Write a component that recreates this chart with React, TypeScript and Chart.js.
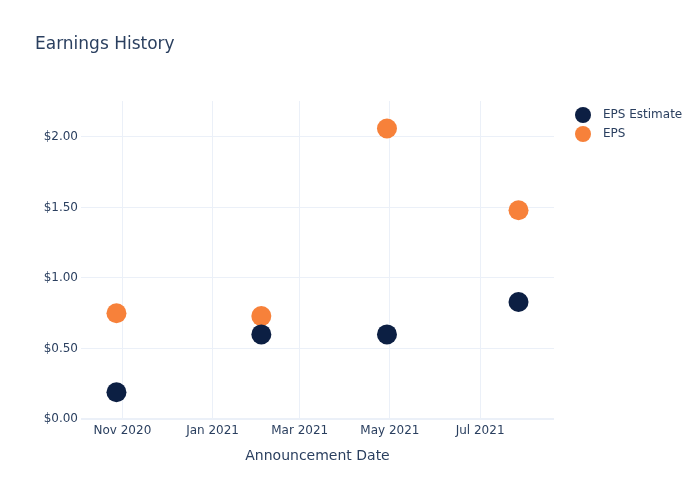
import React, { useEffect, useRef } from "react";
import { Chart, registerables } from "chart.js";

Chart.register(...registerables);

const chartTitle = "Earnings History";
const xAxisTitle = "Announcement Date";
const seriesNames = ["EPS Estimate", "EPS"];
const seriesColors = ["#0c1f43", "#f7813a"];
const announceDates = ["2020-10-28", "2021-02-03", "2021-04-29", "2021-07-27"];
const epsEstimate = [0.19, 0.6, 0.6, 0.83];
const epsActual = [0.75, 0.73, 2.06, 1.48];
const xTickDates = ["2020-11-01", "2021-01-01", "2021-03-01", "2021-05-01", "2021-07-01"];
const xTickLabels = ["Nov 2020", "Jan 2021", "Mar 2021", "May 2021", "Jul 2021"];
const xRange = ["2020-10-04", "2021-08-20"];
const yTicks = [0, 0.5, 1, 1.5, 2];
const yRange = [0, 2.255];

const FONT = "'DejaVu Sans', Verdana, sans-serif";
const TEXT = "#2a3f5f";
const GRID = "#ebf0f8";

export default function App() {
  const ref = useRef<HTMLCanvasElement | null>(null);

  useEffect(() => {
    if (!ref.current) return;
    const tickVals = xTickDates.map((d) => Date.parse(d));
    const overlay = {
      id: "overlay",
      afterDraw(chart: any) {
        const ctx = chart.ctx;
        ctx.save();
        ctx.fillStyle = TEXT;
        ctx.textBaseline = "middle";
        ctx.textAlign = "left";
        ctx.font = `17px ${FONT}`;
        ctx.fillText(chartTitle, 35, 45);
        ctx.font = `12px ${FONT}`;
        seriesNames.forEach((name, i) => {
          const y = 115 + i * 19;
          ctx.beginPath();
          ctx.fillStyle = seriesColors[i];
          ctx.arc(583, y, 8, 0, Math.PI * 2);
          ctx.fill();
          ctx.fillStyle = TEXT;
          ctx.fillText(name, 603, y);
        });
        ctx.restore();
      },
    };
    const chart = new Chart(ref.current, {
      type: "scatter",
      data: {
        datasets: [
          {
            label: seriesNames[0],
            data: announceDates.map((d, i) => ({ x: Date.parse(d), y: epsEstimate[i] })),
            backgroundColor: seriesColors[0],
            pointBackgroundColor: seriesColors[0],
            pointBorderWidth: 0,
            borderWidth: 0,
            pointRadius: 10,
          },
          {
            label: seriesNames[1],
            data: announceDates.map((d, i) => ({ x: Date.parse(d), y: epsActual[i] })),
            backgroundColor: seriesColors[1],
            pointBackgroundColor: seriesColors[1],
            pointBorderWidth: 0,
            borderWidth: 0,
            pointRadius: 10,
          },
        ],
      },
      options: {
        responsive: false,
        animation: false,
        layout: { padding: { left: 1, right: 146, top: 101, bottom: 31 } },
        plugins: { legend: { display: false }, title: { display: false }, tooltip: { enabled: false } },
        scales: {
          x: {
            type: "linear",
            min: Date.parse(xRange[0]),
            max: Date.parse(xRange[1]),
            afterBuildTicks: (s: any) => {
              s.ticks = tickVals.map((v) => ({ value: v }));
            },
            afterFit: (s: any) => {
              s.height = 50;
            },
            grid: { color: GRID, drawTicks: false, lineWidth: 1 },
            border: { display: false },
            ticks: {
              autoSkip: false,
              maxRotation: 0,
              padding: 5,
              color: TEXT,
              font: { family: FONT, size: 12 },
              callback: (v: any) => {
                const i = tickVals.indexOf(Number(v));
                return i >= 0 ? xTickLabels[i] : "";
              },
            },
            title: {
              display: true,
              text: xAxisTitle,
              color: TEXT,
              font: { family: FONT, size: 14 },
              padding: { top: 0, bottom: 4 },
            },
          },
          y: {
            min: yRange[0],
            max: yRange[1],
            afterBuildTicks: (s: any) => {
              s.ticks = yTicks.map((v) => ({ value: v }));
            },
            afterFit: (s: any) => {
              s.width = 80;
            },
            grid: {
              color: GRID,
              drawTicks: false,
              lineWidth: (c: any) => (c.tick && c.tick.value === 0 ? 2 : 1),
            },
            border: { display: false },
            ticks: {
              padding: 3,
              color: TEXT,
              font: { family: FONT, size: 12 },
              callback: (v: any) => "$" + Number(v).toFixed(2),
            },
          },
        },
      },
      plugins: [overlay],
    } as any);
    return () => chart.destroy();
  }, []);

  return (
    <div style={{ position: "fixed", left: 0, top: 0, width: 700, height: 500, background: "#fff" }}>
      <canvas ref={ref} width={700} height={500} />
    </div>
  );
}
